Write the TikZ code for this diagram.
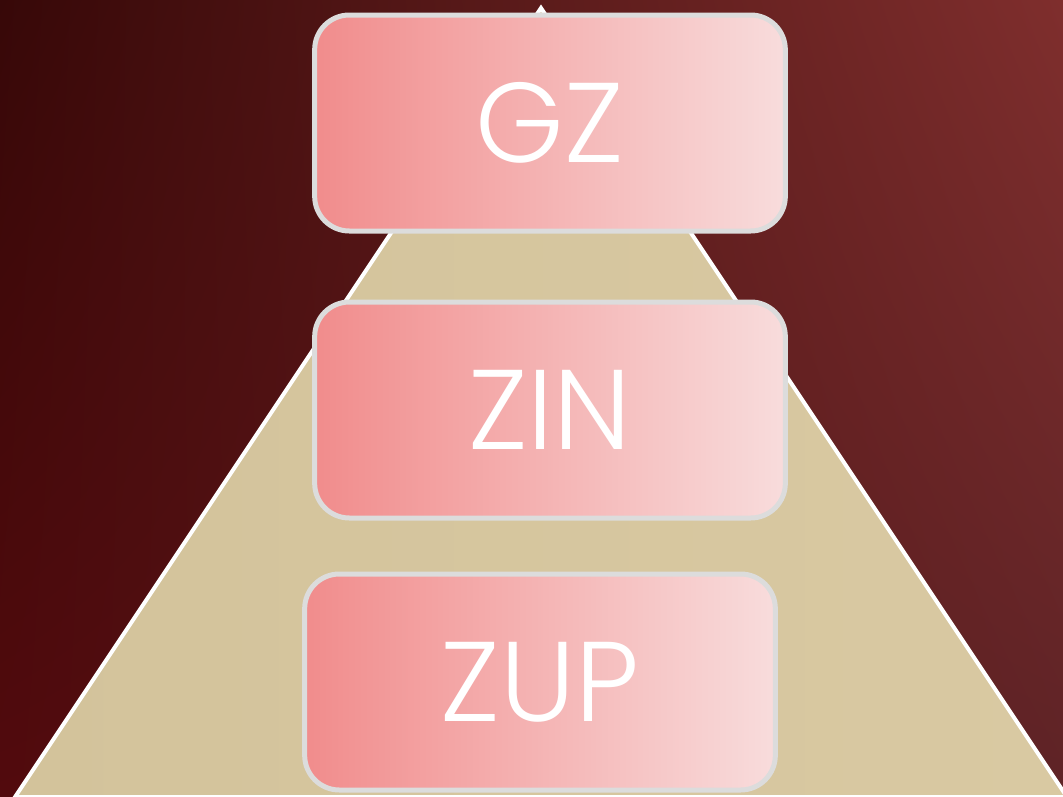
\documentclass[tikz,border=0pt]{standalone}
\usepackage{fontspec}
\usetikzlibrary{shadings}
\newfontfamily\levelfont{Poppins Light}
\definecolor{bgtl}{HTML}{370808}
\definecolor{bgbl}{HTML}{520A0D}
\definecolor{bgtr}{HTML}{7F2E2D}
\definecolor{bgbr}{HTML}{5E2326}
\definecolor{sandL}{HTML}{D3C39B}
\definecolor{sandR}{HTML}{D9C9A2}
\definecolor{pinkL}{HTML}{F18C8C}
\definecolor{pinkR}{HTML}{F8DCDC}
\definecolor{rim}{HTML}{DCDCDC}

\tikzset{
  level/.style={draw=rim, line width=3.75pt, rounded corners=26pt,
    left color=pinkL, right color=pinkR,
    minimum width=353pt, minimum height=162pt, inner sep=0pt,
    text=white, font=\levelfont\fontsize{85}{85}\selectfont},
  pyramid/.style={draw=white, line width=3pt, left color=sandL, right color=sandR}
}

\begin{document}
\begin{tikzpicture}[x=0.75pt,y=-0.75pt]
  \useasboundingbox (0,0) rectangle (1063,796);
  \shade[upper left=bgtl, lower left=bgbl, upper right=bgtr, lower right=bgbr]
    (0,0) rectangle (1063,796);
  \coordinate (top) at (541,8);
  \coordinate (bl) at (15,797);
  \coordinate (br) at (1067,797);
  \draw[pyramid] (top) -- (bl) -- (br) -- cycle;
  \node[level] (gz) at (550,123) {GZ};
  \node[level] (zin) at (550,410) {ZIN};
  \node[level] (zup) at (540,682) {ZUP};
\end{tikzpicture}
\end{document}
